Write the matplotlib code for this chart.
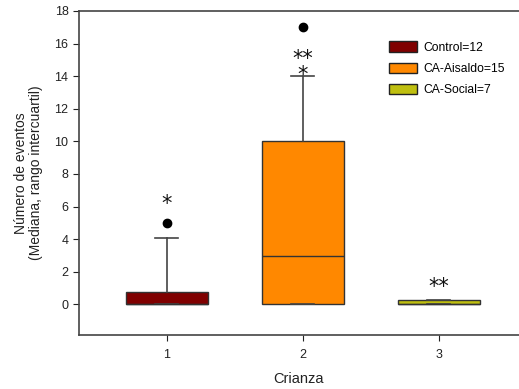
import matplotlib
matplotlib.use("Agg")
import matplotlib.pyplot as plt
from matplotlib.patches import Patch

plt.rcParams['font.family'] = ['Liberation Sans', 'DejaVu Sans']

groups = ["Control=12", "CA-Aisaldo=15", "CA-Social=7"]
positions = [1, 2, 3]
q1 = [0.0, 0.0, 0.0]
q3 = [0.75, 10.0, 0.25]
medians = [0.0, 3.0, 0.0]
whislo = [0.0, 0.0, 0.0]
whishi = [4.1, 14.0, 0.25]
outliers = [[5.0], [17.0], []]
colors = ["#800000", "#FF8800", "#BFBF10"]
sig_marks = [("*", 1, 6.6), ("**\n*", 2, 15.0), ("**", 3, 1.5)]
yticks = [0, 2, 4, 6, 8, 10, 12, 14, 16, 18]

fig = plt.figure(figsize=(5.19, 3.89), dpi=100)
ax = fig.add_axes([0.152, 0.139, 0.848, 0.833])

stats = []
for i in range(3):
    stats.append(dict(med=medians[i], q1=q1[i], q3=q3[i], whislo=whislo[i],
                      whishi=whishi[i], fliers=outliers[i]))

bp = ax.bxp(stats, positions=positions, widths=0.6, patch_artist=True,
            showfliers=True, manage_ticks=False,
            boxprops=dict(edgecolor="#333333", linewidth=1.0),
            medianprops=dict(color="#333333", linewidth=1.0),
            whiskerprops=dict(color="#444444", linewidth=1.2),
            capprops=dict(color="#444444", linewidth=1.2),
            flierprops=dict(marker="o", markerfacecolor="black",
                            markeredgecolor="black", markersize=6))
for patch, c in zip(bp["boxes"], colors):
    patch.set_facecolor(c)
for cap in bp["caps"]:
    x = cap.get_xdata()
    m = (x[0] + x[1]) / 2
    cap.set_xdata([m - 0.085, m + 0.085])

for txt, x, y in sig_marks:
    ax.annotate(txt, xy=(x, y), xytext=(0, -5), textcoords="offset points",
                ha="center", va="center", multialignment="center",
                linespacing=0.75, fontsize=15, family="DejaVu Sans",
                color="#111111")

ax.set_xlim(0.353, 3.59)
ax.set_ylim(-1.87, 18)
ax.set_yticks(yticks)
ax.set_xticks(positions)
ax.set_xticklabels(["1", "2", "3"])
ax.tick_params(direction="out", length=4, labelsize=9, colors="#222222")
ax.tick_params(axis="x", pad=6)
for s in ["left", "bottom", "top"]:
    ax.spines[s].set_color("#444444")
    ax.spines[s].set_linewidth(1.2)
ax.spines["right"].set_visible(False)

ax.set_ylabel("Número de eventos\n(Mediana, rango intercuartil)", fontsize=10,
              color="#222222", labelpad=8, linespacing=1.15)
ax.set_xlabel("Crianza", fontsize=10.5, color="#222222", labelpad=8)

handles = [Patch(facecolor=c, edgecolor="#222222", label=g) for c, g in zip(colors, groups)]
ax.legend(handles=handles, loc="upper left", bbox_to_anchor=(0.681, 0.94),
          frameon=False, prop=dict(family="Liberation Sans", size=8.7),
          handlelength=2.3, handleheight=0.95,
          handletextpad=0.5, labelspacing=0.75)

fig.savefig("out.png", dpi=100)
